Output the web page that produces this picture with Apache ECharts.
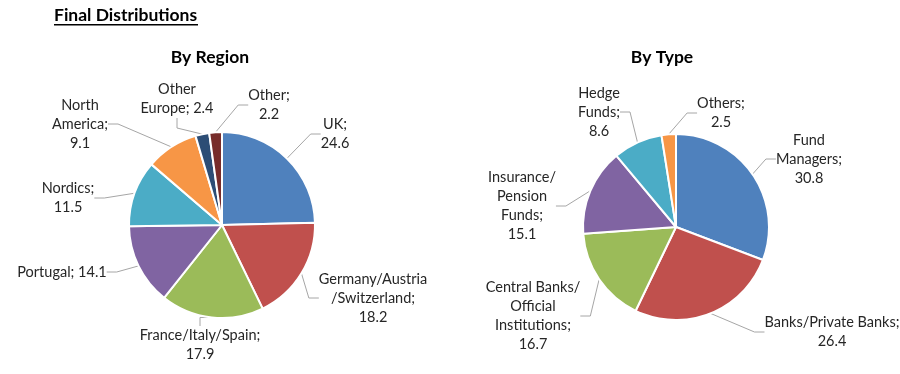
<!DOCTYPE html>
<html><head><meta charset="utf-8">
<script src="https://cdn.jsdelivr.net/npm/echarts@6/dist/echarts.min.js"></script>
<style>html,body{margin:0;padding:0;background:#fff}#c{width:900px;height:374px}</style>
</head><body><div id="c"></div>
<script>
const regionNames = ['UK', 'Germany/Austria\n/Switzerland', 'France/Italy/Spain', 'Portugal', 'Nordics', 'North\nAmerica', 'Other\nEurope', 'Other'];
const regionValues = [24.6, 18.2, 17.9, 14.1, 11.5, 9.1, 2.4, 2.2];
const typeNames = ['Fund\nManagers', 'Banks/Private Banks', 'Central Banks/\nOfficial\nInstitutions', 'Insurance/\nPension\nFunds', 'Hedge\nFunds', 'Others'];
const typeValues = [30.8, 26.4, 16.7, 15.1, 8.6, 2.5];

// label text formats (separator between name and value)
const regionSep = ['\n', '\n', '\n', ' ', '\n', '\n', ' ', '\n'];
const typeSep = ['\n', '\n', '\n', '\n', '\n', '\n'];
// label block centres (layout only)
const regionLabelPos = [[335,134],[373,298],[200,345],[62,272],[68,198],[80,124],[177,99],[269,105]];
const typeLabelPos = [[809,159],[832,332],[533,316],[522,206],[599,112],[721,113]];

const colors1 = ['#4F81BD','#C0504D','#9BBB59','#8064A2','#4BACC6','#F79646','#2C4D75','#772C2A'];
const colors2 = ['#4F81BD','#C0504D','#9BBB59','#8064A2','#4BACC6','#F79646'];

const FONT = 'Lato, "Open Sans", sans-serif';

function mkSeries(names, values, seps, pos, colors, center) {
  return {
    type: 'pie',
    center: center,
    radius: 93,
    startAngle: 90,
    clockwise: true,
    animation: false,
    data: names.map((n, i) => ({ name: n, value: values[i], itemStyle: { color: colors[i] } })),
    itemStyle: { borderColor: '#fff', borderWidth: 2 },
    label: {
      show: true,
      position: 'outside',
      formatter: p => p.name + ';' + seps[p.dataIndex] + p.value,
      fontFamily: FONT,
      fontSize: 14.5,
      lineHeight: 19,
      color: '#262626',
      align: 'center'
    },
    labelLine: { show: true, length: 10, length2: 10, lineStyle: { color: '#A6A6A6', width: 1 } },
    labelLayout: p => ({ x: pos[p.dataIndex][0], y: pos[p.dataIndex][1], align: 'center', verticalAlign: 'middle' }),
    emphasis: { disabled: true }
  };
}

const chart = echarts.init(document.getElementById('c'), null, { renderer: 'canvas' });
chart.setOption({
  backgroundColor: '#fff',
  graphic: [
    { type: 'text', left: 54, top: 6, style: { text: 'Final Distributions', font: 'bold 17.5px ' + FONT, fill: '#000' } },
    { type: 'rect', left: 54, top: 24, shape: { width: 144, height: 1.4 }, style: { fill: '#000' } },
    { type: 'text', x: 210, y: 57, style: { text: 'By Region', font: 'bold 17.5px ' + FONT, fill: '#000', textAlign: 'center', textVerticalAlign: 'middle' } },
    { type: 'text', x: 662, y: 57, style: { text: 'By Type', font: 'bold 17.5px ' + FONT, fill: '#000', textAlign: 'center', textVerticalAlign: 'middle' } }
  ],
  series: [
    mkSeries(regionNames, regionValues, regionSep, regionLabelPos, colors1, [222, 225]),
    mkSeries(typeNames, typeValues, typeSep, typeLabelPos, colors2, [676, 227])
  ]
});
</script></body></html>
